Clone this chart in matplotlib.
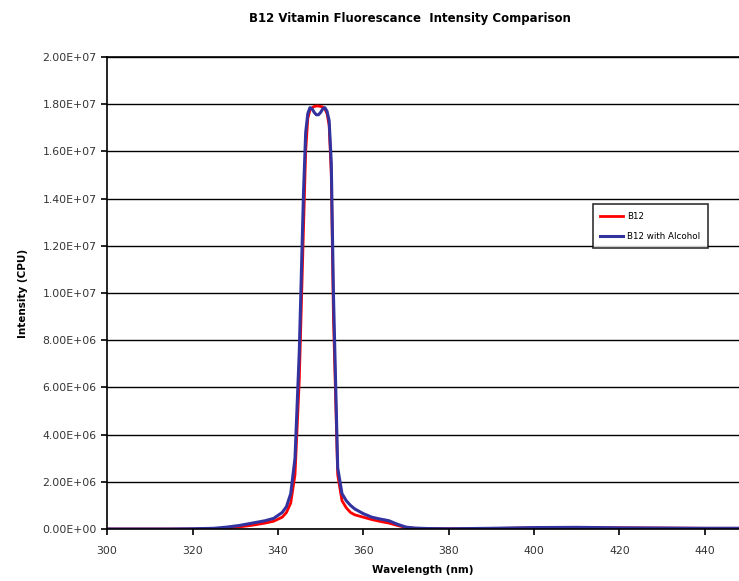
import matplotlib
matplotlib.use("Agg")
import matplotlib.pyplot as plt
from matplotlib.ticker import FuncFormatter, MultipleLocator

plt.rcParams['font.family'] = ['DejaVu Sans']

# wavelength (nm) and intensity (x 1e6 CPU)
wavelength = [300, 305, 310, 315, 320, 325, 328, 331, 334, 337, 339, 341, 342, 343,
              344, 345, 346, 346.5, 347, 347.5, 348, 348.5, 349, 349.5, 350, 350.5,
              351, 351.5, 352, 352.5, 353, 354, 355, 356, 357,
              358, 360, 362, 364, 366, 368, 370, 372, 375, 380, 390, 400, 410, 420,
              430, 440, 448]
b12 = [0.0, 0.0, 0.0, 0.0, 0.0, 0.01, 0.04, 0.09, 0.16, 0.25, 0.33, 0.5, 0.7, 1.1,
       2.3, 6.3, 12.8, 16.0, 17.4, 17.75, 17.85, 17.9, 17.92, 17.92, 17.9, 17.88,
       17.8, 17.6, 17.1, 15.0, 9.0, 2.3, 1.2, 0.9, 0.7,
       0.6, 0.5, 0.4, 0.32, 0.25, 0.15, 0.06, 0.03, 0.02, 0.01, 0.02, 0.05, 0.06, 0.05,
       0.04, 0.03, 0.03]
b12_alcohol = [0.0, 0.0, 0.0, 0.0, 0.01, 0.03, 0.08, 0.15, 0.25, 0.35, 0.45, 0.7, 0.95, 1.5,
               3.0, 7.5, 14.3, 16.8, 17.6, 17.85, 17.8, 17.65, 17.55, 17.55, 17.65, 17.8,
               17.85, 17.7, 17.3, 15.5, 10.0, 2.6, 1.5, 1.2, 1.0,
               0.85, 0.65, 0.5, 0.42, 0.35, 0.2, 0.08, 0.04, 0.02, 0.01, 0.03, 0.06, 0.07, 0.05,
               0.04, 0.03, 0.03]

fig = plt.figure(figsize=(7.39, 5.81), dpi=100)
ax = fig.add_axes([0.145, 0.0895, 0.855, 0.8125])

ax.plot(wavelength, [v * 1e6 for v in b12], color='#ff0000', lw=2.0, label='B12')
ax.plot(wavelength, [v * 1e6 for v in b12_alcohol], color='#3333a0', lw=2.2,
        label='B12 with Alcohol')

ax.set_xlim(300, 448)
ax.set_ylim(0, 2.0e7)
ax.xaxis.set_major_locator(MultipleLocator(20))
ax.yaxis.set_major_locator(MultipleLocator(2.0e6))
ax.yaxis.set_major_formatter(FuncFormatter(lambda v, p: f"{v:.2E}"))
ax.grid(axis='y', color='black', lw=1.0)
ax.set_axisbelow(True)
ax.spines['right'].set_visible(False)
for s in ['left', 'bottom', 'top']:
    ax.spines[s].set_color('black')
    ax.spines[s].set_linewidth(1.2)
ax.tick_params(axis='both', labelsize=7.8, length=4, width=1.2, direction='out',
               labelcolor='#333333')
ax.tick_params(axis='x', pad=8)

ax.set_xlabel('Wavelength (nm)', fontsize=7.5, fontweight='bold', labelpad=7)
ax.set_ylabel('Intensity (CPU)', fontsize=7.5, fontweight='bold', labelpad=2)
ax.yaxis.set_label_coords(-0.125, 0.5)
fig.text(0.555, 0.968, 'B12 Vitamin Fluorescance  Intensity Comparison', fontsize=8.5,
         fontweight='bold', ha='center', va='center')

leg = ax.legend(loc='upper left', bbox_to_anchor=(0.796, 0.656),
                bbox_transform=fig.transFigure, fontsize=6.3, frameon=True,
                fancybox=False, edgecolor='black', handlelength=2.6,
                handletextpad=0.4, borderpad=0.9, labelspacing=1.2)
leg.get_frame().set_linewidth(1.2)

fig.savefig('out.png', dpi=100)
